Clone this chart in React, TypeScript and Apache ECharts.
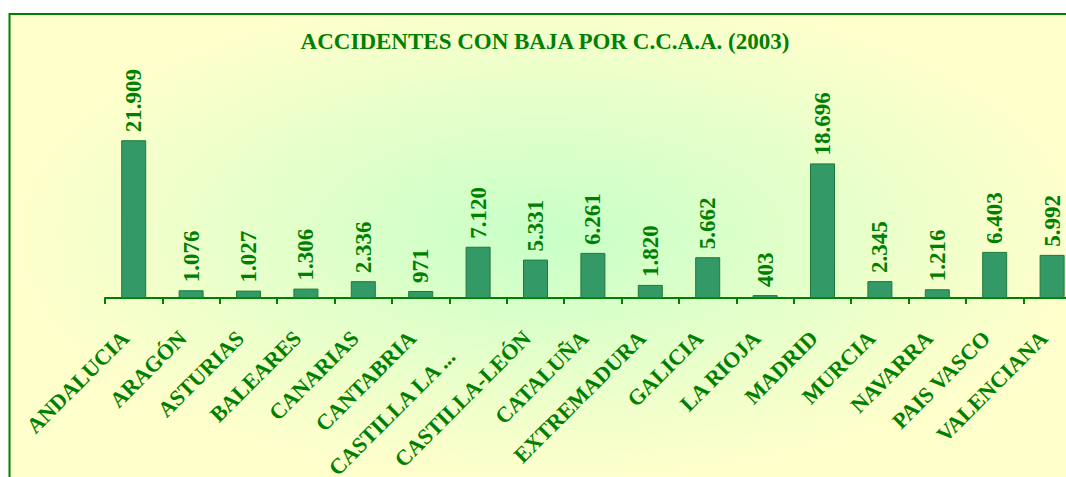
import React, { useEffect, useRef } from "react";
import * as echarts from "echarts";

const categories = [
  "ANDALUCIA", "ARAGÓN", "ASTURIAS", "BALEARES", "CANARIAS", "CANTABRIA",
  "CASTILLA LA ...", "CASTILLA-LEÓN", "CATALUÑA", "EXTREMADURA", "GALICIA",
  "LA RIOJA", "MADRID", "MURCIA", "NAVARRA", "PAIS VASCO", "VALENCIANA",
];
const accidents = [
  21909, 1076, 1027, 1306, 2336, 971, 7120, 5331, 6261, 1820, 5662, 403,
  18696, 2345, 1216, 6403, 5992,
];
const titleText = "ACCIDENTES CON BAJA POR C.C.A.A. (2003)";

const GREEN = "#008000";
const SERIF = "'Liberation Serif', 'Times New Roman', serif";

function fmt(n: number): string {
  return String(n).replace(/\B(?=(\d{3})+(?!\d))/g, ".");
}

export default function App() {
  const ref = useRef<HTMLDivElement>(null);
  useEffect(() => {
    document.body.style.margin = "0";
    const chart = echarts.init(ref.current!, null, { renderer: "svg" });
    const catData = categories.map((c) =>
      c.endsWith("...") ? { value: c, textStyle: { padding: [0, 38, 40, 0] } } : c
    );
    chart.setOption({
      animation: false,
      graphic: [
        {
          type: "rect",
          z: -10,
          shape: { x: 9.5, y: 14, width: 1075, height: 490 },
          style: {
            fill: {
              type: "radial",
              x: 0.5,
              y: 0.45,
              r: 0.5,
              colorStops: [
                { offset: 0, color: "#c8ffc8" },
                { offset: 1, color: "#ffffcc" },
              ],
            },
            stroke: GREEN,
            lineWidth: 2,
          },
        },
        {
          type: "text",
          x: 545,
          y: 41,
          style: {
            text: titleText,
            align: "center",
            verticalAlign: "middle",
            fill: GREEN,
            font: `bold 23px ${SERIF}`,
          },
        },
      ],
      grid: {
        left: 105,
        top: 118,
        width: 17 * 57.4,
        height: 180,
        containLabel: false,
        outerBoundsMode: "none",
      },
      xAxis: {
        type: "category",
        data: catData,
        axisLine: { lineStyle: { color: GREEN, width: 2 } },
        axisTick: { show: true, length: 6, lineStyle: { color: GREEN, width: 2 } },
        axisLabel: {
          interval: 0,
          rotate: 45,
          margin: 28,
          padding: [0, 12, 38, 0],
          color: GREEN,
          fontFamily: SERIF,
          fontWeight: "bold",
          fontSize: 22,
        },
      },
      yAxis: { type: "value", min: 0, max: 25000, show: false },
      series: [
        {
          type: "bar",
          data: accidents,
          barWidth: 25,
          itemStyle: { color: "#339966", borderColor: "#1e7a3c", borderWidth: 1 },
          label: {
            show: true,
            position: "top",
            rotate: 90,
            align: "left",
            verticalAlign: "middle",
            distance: 8,
            color: GREEN,
            fontFamily: SERIF,
            fontWeight: "bold",
            fontSize: 23,
            formatter: (p: any) => fmt(p.value),
          },
        },
      ],
    });
    return () => chart.dispose();
  }, []);
  return (
    <div
      style={{
        position: "fixed",
        left: 0,
        top: 0,
        width: 1066,
        height: 477,
        overflow: "hidden",
        background: "#ffffff",
      }}
    >
      <div ref={ref} style={{ width: 1100, height: 477 }} />
    </div>
  );
}
